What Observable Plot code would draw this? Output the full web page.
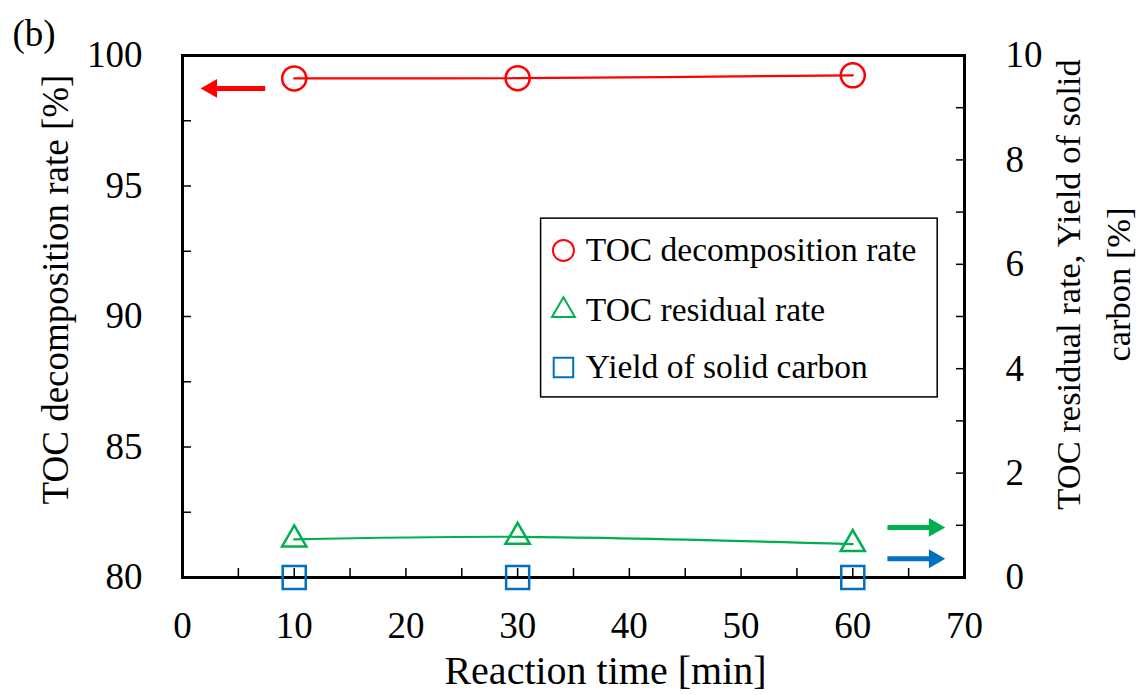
<!DOCTYPE html>
<html><head><meta charset="utf-8">
<script src="https://cdn.jsdelivr.net/npm/d3@7"></script>
<script src="https://cdn.jsdelivr.net/npm/@observablehq/plot@0.6"></script>
<style>body{margin:0;background:#fff}</style>
</head><body><div id="chart"></div>
<script>
// ---- data ----
const times = [10, 30, 60];
const tocDecomposition = [99.12, 99.13, 99.24];   // left axis [%]
const tocResidual = [0.73, 0.78, 0.64];           // right axis [%]
const solidCarbonYield = [0, 0, 0];               // right axis [%]
const seriesNames = ["TOC decomposition rate", "TOC residual rate", "Yield of solid carbon"];
const xTickLabels = [0, 10, 20, 30, 40, 50, 60, 70];
const xTickMinor = [0, 5, 10, 15, 20, 25, 30, 35, 40, 45, 50, 55, 60, 65, 70];
const leftTickLabels = [80, 85, 90, 95, 100];
const leftTickMinor = [80, 82.5, 85, 87.5, 90, 92.5, 95, 97.5, 100];
const rightTickLabels = [0, 2, 4, 6, 8, 10];
const rightTickMinor = [0, 1, 2, 3, 4, 5, 6, 7, 8, 9, 10];
// annotation arrows: [x from, x to, value, axis]
const arrows = [
  {from: 7.4, to: 2.6, v: 98.74, axis: "left", color: "#FF0000"},
  {from: 63.1, to: 67.3, v: 0.96, axis: "right", color: "#00B050"},
  {from: 63.1, to: 67.3, v: 0.36, axis: "right", color: "#0070C0"}
];

const RED = "#FF0000", GREEN = "#00B050", BLUE = "#0070C0";
// right axis (0-10) mapped onto left scale (80-100)
const R = v => 80 + v * 2;

const red = times.map((t, i) => ({t, y: tocDecomposition[i]}));
const green = times.map((t, i) => ({t, y: R(tocResidual[i])}));
const blue = times.map((t, i) => ({t, y: R(solidCarbonYield[i])}));
const arr = arrows.map(a => ({...a, y: a.axis === "left" ? a.v : R(a.v)}));

// legend layout (in data units of the x / left-y scales)
const legX1 = 32.1, legX2 = 67.6, legY1 = 86.9, legY2 = 93.75;
const legRowsY = [92.53, 90.23, 88.05];
const legend = seriesNames.map((name, i) => ({name, y: legRowsY[i], sym: ["circle", "triangle", "square"][i], color: [RED, GREEN, BLUE][i], r: [10.5, 8.5, 11][i]}));

const font = "Liberation Serif, Times New Roman, serif";

const chart = Plot.plot({
  width: 1144, height: 695,
  marginLeft: 182, marginRight: 180, marginTop: 55, marginBottom: 118,
  style: {fontFamily: font, color: "black", background: "white", overflow: "visible"},
  x: {domain: [0, 70]},
  y: {domain: [80, 100]},
  r: {type: "identity"},
  marks: [
    // axes
    Plot.axisX({ticks: xTickLabels, tickSize: 0, tickPadding: 34, fontSize: 37, label: null}),
    Plot.axisX({ticks: xTickMinor, tickSize: -9, strokeWidth: 1.5, fill: "none", label: null}),
    Plot.axisY({ticks: leftTickLabels, tickSize: 0, tickPadding: 40, fontSize: 37, label: null}),
    Plot.axisY({ticks: leftTickMinor, tickSize: -9, strokeWidth: 1.5, fill: "none", label: null}),
    Plot.axisY({anchor: "right", ticks: rightTickLabels.map(R), tickFormat: d => String((d - 80) / 2), tickSize: 0, tickPadding: 41, fontSize: 37, textAnchor: "start", label: null}),
    Plot.axisY({anchor: "right", ticks: rightTickMinor.map(R), tickSize: -9, strokeWidth: 1.5, fill: "none", label: null}),
    // titles
    Plot.text(["(b)"], {frameAnchor: "top-left", dx: -170, dy: -21, textAnchor: "start", lineAnchor: "middle", fontSize: 37}),
    Plot.text(["TOC decomposition rate [%]"], {frameAnchor: "left", rotate: -90, dx: -126, dy: -27, textAnchor: "middle", lineAnchor: "middle", fontSize: 37}),
    Plot.text(["TOC residual rate, Yield of solid\ncarbon [%]"], {frameAnchor: "right", rotate: -90, dx: 124, dy: -32, textAnchor: "middle", lineAnchor: "middle", fontSize: 34.5, lineHeight: 1.45}),
    Plot.text(["Reaction time [min]"], {frameAnchor: "bottom", dx: 32, dy: 94, lineAnchor: "middle", fontSize: 40}),
    // series
    Plot.line(red, {x: "t", y: "y", stroke: RED, strokeWidth: 2.2, curve: "catmull-rom"}),
    Plot.line(green, {x: "t", y: "y", stroke: GREEN, strokeWidth: 2.2, curve: "catmull-rom"}),
    Plot.frame({stroke: "black", strokeWidth: 3}),
    Plot.dot(red, {x: "t", y: "y", r: 12, stroke: RED, strokeWidth: 2.5, fill: "none"}),
    Plot.dot(green, {x: "t", y: "y", symbol: "triangle", r: 9, stroke: GREEN, strokeWidth: 2.5, fill: "none"}),
    Plot.dot(blue, {x: "t", y: "y", symbol: "square", r: 13, stroke: BLUE, strokeWidth: 2.5, fill: "none"}),
    // arrows
    Plot.link(arr, {x1: "from", x2: "to", y1: "y", y2: "y", stroke: "color", strokeWidth: 5}),
    Plot.dot(arr, {x: "to", y: "y", symbol: "triangle", r: 7, fill: "color", stroke: "none", rotate: a => a.to > a.from ? 90 : -90}),
    // legend
    Plot.rect([0], {x1: legX1, x2: legX2, y1: legY1, y2: legY2, fill: "white", stroke: "black", strokeWidth: 1.5}),
    Plot.dot(legend, {x: 34.1, y: "y", symbol: "sym", r: "r", stroke: "color", strokeWidth: 2, fill: "none"}),
    Plot.text(legend, {x: 36.1, y: "y", text: "name", textAnchor: "start", fontSize: 33.5})
  ]
});
document.getElementById("chart").appendChild(chart);
</script>
</body></html>
